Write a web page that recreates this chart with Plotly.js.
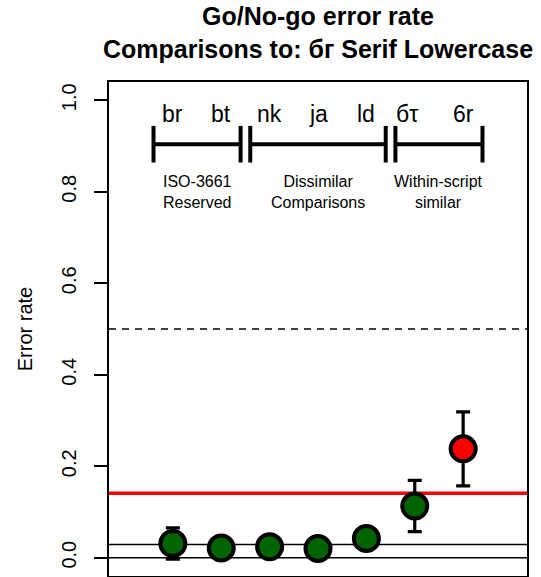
<!DOCTYPE html>
<html>
<head>
<meta charset="utf-8">
<script src="https://cdn.plot.ly/plotly-3.0.1.min.js"></script>
<style>
  html, body { margin: 0; padding: 0; background: #ffffff; }
  #chart { width: 541px; height: 577px; }
</style>
</head>
<body>
<div id="chart"></div>
<script>
// Letter-pair comparisons, in plotting order
const categories = ['br', 'bt', 'nk', 'ja', 'ld', 'бτ', '6r'];
// Mean go/no-go error rate and the half-length of its error bar
const errorRate = [0.031, 0.021, 0.024, 0.020, 0.042, 0.113, 0.238];
const errorHalf = [0.034, 0.012, 0.012, 0.012, 0.015, 0.056, 0.081];
// Pairs whose rate lies above the threshold line are drawn in red
const aboveThreshold = [false, false, false, false, false, false, true];

// Comparison groups shown by brackets above the points
const groupNames = ['ISO-3661<br>Reserved', 'Dissimilar<br>Comparisons', 'Within-script<br>similar'];
const groupStart = [0.6, 2.6, 5.6];
const groupEnd = [2.4, 5.4, 7.4];

// Reference lines
const chanceRate = 0.5;
const thresholdRate = 0.141;
const baselineRates = [0, 0.029];

const yTicks = [0, 0.2, 0.4, 0.6, 0.8, 1.0];
const yTickText = ['0.0', '0.2', '0.4', '0.6', '0.8', '1.0'];

const FONT = 'Liberation Sans, Arial, Helvetica, sans-serif';
const xPos = categories.map((_, i) => i + 1);

const points = {
  type: 'scatter',
  mode: 'markers',
  x: xPos,
  y: errorRate,
  text: categories,
  hoverinfo: 'text+y',
  error_y: {
    type: 'data',
    array: errorHalf,
    visible: true,
    color: '#000000',
    thickness: 3.2,
    width: 7
  },
  marker: {
    size: 25,
    color: aboveThreshold.map(h => h ? '#ff0000' : '#006400'),
    line: { color: '#000000', width: 4 }
  },
  showlegend: false
};

// Brackets: one horizontal bar with an end tick on each side
const bracketY = 0.904, tickLo = 0.864, tickHi = 0.944;
const shapes = [];
groupStart.forEach((s, i) => {
  const e = groupEnd[i];
  const ln = { color: '#000000', width: 4 };
  shapes.push({ type: 'line', xref: 'x', yref: 'y', x0: s, x1: e, y0: bracketY, y1: bracketY, line: ln });
  shapes.push({ type: 'line', xref: 'x', yref: 'y', x0: s, x1: s, y0: tickLo, y1: tickHi, line: ln });
  shapes.push({ type: 'line', xref: 'x', yref: 'y', x0: e, x1: e, y0: tickLo, y1: tickHi, line: ln });
});

// Horizontal reference lines across the whole panel
baselineRates.forEach(v => {
  shapes.push({ type: 'line', xref: 'paper', yref: 'y', x0: 0, x1: 1, y0: v, y1: v,
    line: { color: '#000000', width: 1.6 }, layer: 'below' });
});
shapes.push({ type: 'line', xref: 'paper', yref: 'y', x0: 0, x1: 1, y0: chanceRate, y1: chanceRate,
  line: { color: '#000000', width: 1.6, dash: '7px,6px' }, layer: 'below' });
shapes.push({ type: 'line', xref: 'paper', yref: 'y', x0: 0, x1: 1, y0: thresholdRate, y1: thresholdRate,
  line: { color: '#ff0000', width: 3.5 }, layer: 'below' });

const annotations = [];
categories.forEach((c, i) => {
  annotations.push({
    x: xPos[i], y: 0.969, xref: 'x', yref: 'y', text: c, showarrow: false,
    xshift: c === 'бτ' ? -8 : 0,
    font: { family: FONT, size: 23, color: '#000000' }
  });
});
groupNames.forEach((g, i) => {
  annotations.push({
    x: (groupStart[i] + groupEnd[i]) / 2, y: 0.80, xref: 'x', yref: 'y', text: g, showarrow: false,
    font: { family: FONT, size: 16, color: '#000000' }
  });
});

const layout = {
  width: 541,
  height: 577,
  margin: { l: 109, r: 14, t: 82, b: 1, pad: 0 },
  paper_bgcolor: '#ffffff',
  plot_bgcolor: '#ffffff',
  font: { family: FONT, color: '#000000' },
  title: {
    text: '<b>Go/No-go error rate<br>Comparisons to: бг Serif Lowercase</b>',
    font: { family: FONT, size: 25, color: '#000000' },
    x: 0.5, xref: 'paper', xanchor: 'center',
    y: 1 - 25 / 577, yref: 'container', yanchor: 'middle'
  },
  xaxis: {
    range: [-0.32, 8.32],
    showgrid: false, zeroline: false, showticklabels: false, ticks: '',
    showline: true, mirror: true, linecolor: '#000000', linewidth: 2,
    fixedrange: true
  },
  yaxis: {
    range: [-0.04, 1.04],
    tickvals: yTicks, ticktext: yTickText, tickangle: -90,
    ticks: 'outside', ticklen: 13, tickwidth: 2, tickcolor: '#000000',
    ticklabelstandoff: 10,
    tickfont: { family: FONT, size: 20, color: '#000000' },
    showgrid: false, zeroline: false,
    showline: true, mirror: true, linecolor: '#000000', linewidth: 2,
    title: { text: 'Error rate', font: { family: FONT, size: 20, color: '#000000' }, standoff: 20 },
    fixedrange: true
  },
  shapes: shapes,
  annotations: annotations,
  showlegend: false
};

Plotly.newPlot('chart', [points], layout, { displayModeBar: false, staticPlot: true });
</script>
</body>
</html>
